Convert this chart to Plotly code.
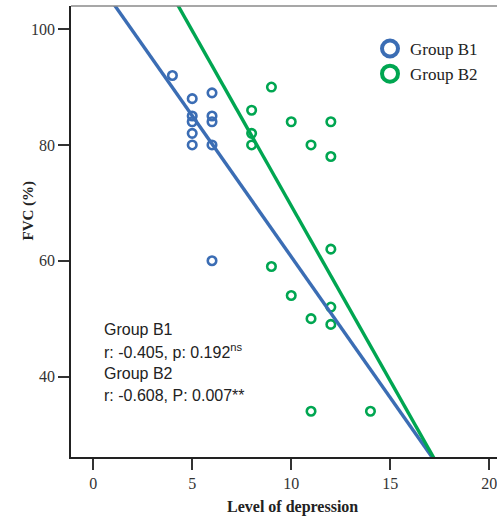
import plotly.graph_objects as go

# ---- data ----
b1_x = [4, 5, 5, 5, 5, 5, 6, 6, 6, 6, 6]
b1_y = [92, 88, 85, 84, 82, 80, 89, 85, 84, 80, 60]
b2_x = [9, 8, 8, 8, 10, 12, 11, 12, 12, 9, 10, 12, 11, 12, 11, 14]
b2_y = [90, 86, 82, 80, 84, 84, 80, 78, 62, 59, 54, 52, 50, 49, 34, 34]
# fitted regression lines (intercept, slope) as shown in the chart
b1_fit = (109.4, -4.87)
b2_fit = (130.0, -6.05)
x_ticks = [0, 5, 10, 15, 20]
y_ticks = [40, 60, 80, 100]
group_names = ["Group B1", "Group B2"]
stats_lines = ["Group B1", "r: -0.405, p: 0.192<sup>ns</sup>", "Group B2", "r: -0.608, P: 0.007**"]

BLUE = "#3b6db4"
GREEN = "#00a651"

W, H = 497, 519
L, R, T, B = 71, 0, 6, 62
XR = [-1.12, 20.39]
YR = [26.1, 104.0]

def px_x(p):
    return (p - L) / (W - L - R)

def px_y(p):
    return (H - B - p) / (H - T - B)

fig = go.Figure()

for xs, ys, col in [(b1_x, b1_y, BLUE), (b2_x, b2_y, GREEN)]:
    fig.add_trace(go.Scatter(x=xs, y=ys, mode="markers", showlegend=False,
                             marker=dict(symbol="circle-open", size=8.5, color=col,
                                         line=dict(width=2.6, color=col))))

for (a, b), col in [(b1_fit, BLUE), (b2_fit, GREEN)]:
    xl = [XR[0], XR[1]]
    fig.add_trace(go.Scatter(x=xl, y=[a + b * v for v in xl], mode="lines", showlegend=False,
                             line=dict(color=col, width=3.4), hoverinfo="skip"))

for name, col in zip(group_names, [BLUE, GREEN]):
    fig.add_trace(go.Scatter(x=[None], y=[None], mode="markers", name=name,
                             marker=dict(symbol="circle-open", size=18, color=col,
                                         line=dict(width=4, color=col))))

tick_font = dict(family="Liberation Serif, Times New Roman, serif", size=16, color="#333333")
fig.update_xaxes(range=XR, tickvals=x_ticks, ticks="outside", ticklen=11, tickwidth=1.5,
                 tickcolor="#333333", showline=True, linecolor="#222222", linewidth=1.5,
                 showgrid=False, zeroline=False, tickfont=tick_font, ticklabeloverflow="allow")
fig.update_yaxes(range=YR, tickvals=y_ticks, ticks="outside", ticklen=11, tickwidth=1.5,
                 tickcolor="#333333", showline=True, linecolor="#222222", linewidth=1.5,
                 showgrid=False, zeroline=False, tickfont=tick_font, ticklabeloverflow="allow")

fig.add_shape(type="line", xref="paper", yref="paper", x0=0, x1=1, y0=1, y1=1,
              line=dict(color="#8a8a8a", width=1.5))

ann = []
ann.append(dict(text="<b>Level of depression</b>", xref="paper", yref="paper",
                x=px_x(292), y=px_y(507), showarrow=False, xanchor="center", yanchor="middle",
                font=dict(family="Liberation Serif, Times New Roman, serif", size=16, color="#222222")))
ann.append(dict(text="<b>FVC (%)</b>", xref="paper", yref="paper", textangle=-90,
                x=px_x(27.5), y=px_y(211), showarrow=False, xanchor="center", yanchor="middle",
                font=dict(family="Liberation Serif, Times New Roman, serif", size=15, color="#222222")))
for i, t in enumerate(stats_lines):
    ann.append(dict(text=t, xref="paper", yref="paper", x=px_x(102), y=px_y(329 + 22 * i),
                    showarrow=False, xanchor="left", yanchor="middle",
                    font=dict(family="Liberation Sans, Arial, sans-serif", size=16, color="#222222")))

fig.update_layout(width=W, height=H, autosize=False,
                  margin=dict(l=L, r=R, t=T, b=B),
                  plot_bgcolor="white", paper_bgcolor="white",
                  annotations=ann,
                  legend=dict(x=px_x(370), y=px_y(31), xanchor="left", yanchor="top",
                              bgcolor="rgba(0,0,0,0)",
                              font=dict(family="Liberation Serif, Times New Roman, serif", size=17,
                                        color="#222222")))

fig.write_html("out.html", config={"displayModeBar": False},
               post_script="document.body.style.margin='0';document.body.style.overflow='hidden';")
